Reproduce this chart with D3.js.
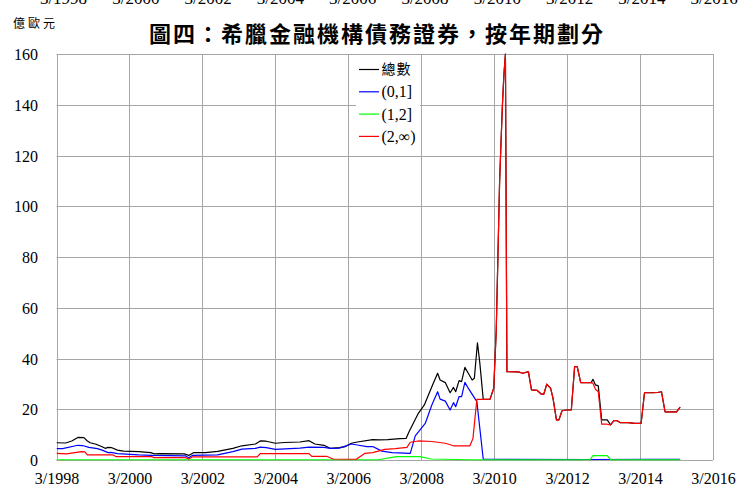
<!DOCTYPE html>
<html><head><meta charset="utf-8">
<script src="https://cdn.jsdelivr.net/npm/d3@7/dist/d3.min.js"></script>
<style>
html,body{margin:0;padding:0;background:#fff;}
svg{display:block;}
</style></head>
<body>
<svg id="chart" width="739" height="487"></svg>
<script>
const titleText = "圖四：希臘金融機構債務證券，按年期劃分";
const unitText = "億歐元";
const seriesNames = ["總數", "(0,1]", "(1,2]", "(2,∞)"];
const seriesColors = ["#000000", "#0000ff", "#00ff00", "#ff0000"];
const xTickLabels = ["3/1998","3/2000","3/2002","3/2004","3/2006","3/2008","3/2010","3/2012","3/2014","3/2016"];
const xTickDates = ["1998-03-01","2000-03-01","2002-03-01","2004-03-01","2006-03-01","2008-03-01","2010-03-01","2012-03-01","2014-03-01","2016-03-01"];
const yTicks = [0,20,40,60,80,100,120,140,160];

const totalDates = ["1998-03-01","1998-06-01","1998-08-01","1998-10-01","1998-12-01","1999-01-01","1999-02-01","1999-04-01","1999-06-01","1999-07-01","1999-08-01","1999-09-01","1999-11-01","2000-01-01","2000-06-01","2000-10-01","2000-11-01","2001-01-01","2001-09-01","2001-10-15","2001-12-01","2002-04-01","2002-08-01","2003-01-01","2003-04-01","2003-08-15","2003-10-01","2003-12-01","2004-03-01","2004-06-01","2004-11-01","2005-02-01","2005-04-01","2005-07-01","2005-09-01","2005-12-01","2006-02-01","2006-04-01","2006-06-01","2006-11-01","2007-01-01","2007-04-01","2007-08-01","2007-10-01","2007-11-01","2008-02-01","2008-04-01","2008-06-15","2008-08-12","2008-09-06","2008-10-28","2008-12-15","2009-01-18","2009-02-09","2009-03-15","2009-04-09","2009-05-12","2009-06-15","2009-07-24","2009-08-15","2009-09-15","2009-10-09","2009-11-12","2010-01-18","2010-02-25","2010-03-22","2010-04-25","2010-05-22","2010-06-07","2010-06-22","2010-07-07","2010-10-28","2010-12-15","2011-02-07","2011-03-10","2011-05-07","2011-06-15","2011-07-12","2011-08-10","2011-09-18","2011-10-12","2011-11-15","2011-12-10","2012-01-10","2012-02-22","2012-04-12","2012-05-15","2012-06-10","2012-07-15","2012-10-28","2012-11-15","2012-12-10","2013-01-07","2013-02-10","2013-04-07","2013-05-10","2013-06-12","2013-07-15","2013-08-18","2013-11-01","2014-01-07","2014-03-12","2014-04-15","2014-07-07","2014-08-25","2014-10-02","2014-11-07","2015-03-02","2015-04-07"];
const totalValues = [6.8,6.7,7.5,8.9,8.8,7.6,6.8,6.2,5.2,4.6,5.0,4.9,3.9,3.5,3.3,2.9,2.4,2.5,2.4,1.8,2.9,2.9,3.4,4.6,5.6,6.3,7.5,7.4,6.6,6.9,7.1,7.6,6.3,5.8,4.6,4.9,5.3,6.6,7.1,8.0,7.9,8.0,8.4,8.5,11.2,18.4,21.7,28.9,34.2,31.5,30.5,26.5,28.6,26.9,31.3,30.9,36.5,34.2,31.5,32.2,46.2,38.1,23.9,23.9,28.3,51,110,139,152,160,34.8,34.7,34.2,34.8,27.6,27.4,26.0,26.0,29.9,28.2,24.3,15.8,15.8,19.4,19.7,19.7,36.8,36.8,30.5,30.5,31.8,29.6,29.2,15.8,15.8,13.8,15.5,15.5,14.7,14.7,14.4,14.4,26.5,26.5,26.6,26.9,19.0,19.0,20.8];

const shortDates = ["1998-03-01","1998-05-01","1998-10-01","1998-11-15","1999-01-20","1999-04-15","1999-06-01","1999-08-01","1999-09-01","1999-11-01","2000-06-01","2000-10-15","2001-09-15","2001-10-15","2001-11-20","2002-08-01","2003-01-01","2003-04-01","2003-08-15","2003-10-01","2003-12-01","2004-03-01","2004-11-01","2005-02-01","2005-07-01","2005-09-01","2005-12-01","2006-04-01","2006-06-01","2006-09-01","2006-11-01","2007-02-01","2007-05-15","2007-11-12","2008-01-01","2008-04-10","2008-06-15","2008-08-12","2008-09-06","2008-10-28","2008-12-15","2009-01-18","2009-02-09","2009-03-15","2009-04-09","2009-05-12","2009-06-15","2009-09-09","2009-11-12","2012-10-15","2014-06-01","2015-04-07"];
const shortValues = [4.5,4.5,5.8,5.7,5.0,4.5,3.9,2.9,3.0,2.5,2.0,1.8,1.6,0.9,1.8,2.0,3.3,4.3,4.6,5.1,4.9,4.2,4.7,5.1,5.0,4.6,4.7,6.3,5.9,5.3,5.3,3.5,2.9,2.6,9.5,14.4,21.7,26.9,24.0,23.2,19.7,22.6,21.0,25.0,25.0,30.6,28.3,23.0,0.3,0.2,0.3,0.3];

const midDates = ["1998-03-01","2006-12-25","2007-06-25","2008-02-15","2008-06-10","2009-07-01","2012-10-15","2012-11-15","2013-04-07","2013-05-10","2015-04-07"];
const midValues = [0.1,0.1,1.3,1.3,0.4,0.1,0.1,1.7,1.7,0.1,0.1];

const longDates = ["1998-03-01","1998-06-10","1998-11-05","1998-12-10","1999-01-05","1999-09-20","1999-10-20","2000-10-15","2000-11-01","2001-09-15","2001-10-15","2001-11-20","2003-09-01","2003-10-01","2005-02-01","2005-03-01","2005-08-01","2005-10-01","2006-05-20","2006-08-12","2006-11-01","2007-03-01","2007-06-15","2007-10-10","2007-11-12","2008-02-01","2008-06-15","2008-10-28","2009-01-18","2009-07-01","2009-08-01","2009-09-09","2010-01-18","2010-02-25","2010-03-22","2010-04-25","2010-05-22","2010-06-07","2010-06-22","2010-07-07","2010-10-28","2010-12-15","2011-02-07","2011-03-10","2011-05-07","2011-06-15","2011-07-12","2011-08-10","2011-09-18","2011-10-12","2011-11-15","2011-12-10","2012-01-10","2012-02-22","2012-04-12","2012-05-15","2012-06-10","2012-07-15","2012-10-28","2012-11-15","2012-12-10","2013-01-07","2013-02-10","2013-04-07","2013-05-10","2013-06-12","2013-07-15","2013-08-18","2013-11-01","2014-01-07","2014-03-12","2014-04-15","2014-07-07","2014-08-25","2014-10-02","2014-11-07","2015-03-02","2015-04-07"];
const longValues = [2.6,2.4,3.3,3.2,2.0,2.0,1.3,1.3,0.9,0.9,0.4,1.2,1.2,2.5,2.5,1.4,1.4,0.4,0.3,2.6,2.9,4.2,4.5,5.0,7.0,7.5,7.3,6.6,5.6,5.6,8.5,23.9,23.9,28.3,51,110,139,152,160,34.8,34.7,34.2,34.8,27.6,27.4,26.0,26.0,29.9,28.2,24.3,15.8,15.8,19.4,19.7,19.7,36.8,36.8,30.5,30.5,30.2,27.9,26.9,14.1,14.1,13.8,15.5,15.5,14.7,14.7,14.4,14.4,26.5,26.5,26.6,26.9,19.0,19.0,20.8];

const parse = d3.timeParse("%Y-%m-%d");
const svg = d3.select("#chart");
const M = {left: 56.5, right: 713, top: 54, bottom: 460};

const x = d3.scaleTime().domain([parse("1998-03-01"), parse("2016-03-01")]).range([M.left, M.right]);
const y = d3.scaleLinear().domain([0, 160]).range([M.bottom, M.top]);

const serif = "'Liberation Serif','Times New Roman',serif";
const cjk = "'Noto Sans CJK TC','Noto Sans CJK SC',sans-serif";

// top clipped axis labels
svg.append("g").selectAll("text").data(xTickLabels).join("text")
  .attr("x", (d,i) => 63.5 + i*72.3).attr("y", 3.5)
  .attr("text-anchor","middle").attr("font-family", serif).attr("font-size", 17)
  .attr("fill","#000").text(d => d);

// unit
svg.append("text").attr("x", 13).attr("y", 28).attr("font-family", cjk)
  .attr("font-size", 12).attr("letter-spacing", 3).attr("fill","#000").text(unitText);

// title
svg.append("text").attr("x", 377).attr("y", 42).attr("text-anchor","middle")
  .attr("font-family", cjk).attr("font-weight","bold").attr("font-size", 22)
  .attr("letter-spacing", 2).attr("fill","#000").text(titleText);

const gridColor = "#a6a6a6";
// horizontal grid
svg.append("g").selectAll("line").data(yTicks).join("line")
  .attr("x1", M.left).attr("x2", M.right)
  .attr("y1", d => Math.round(y(d))+0.5).attr("y2", d => Math.round(y(d))+0.5)
  .attr("stroke", gridColor).attr("stroke-width", 1);
// vertical grid
svg.append("g").selectAll("line").data(xTickDates).join("line")
  .attr("x1", d => Math.round(x(parse(d)))+0.5).attr("x2", d => Math.round(x(parse(d)))+0.5)
  .attr("y1", M.top).attr("y2", M.bottom)
  .attr("stroke", gridColor).attr("stroke-width", 1);

// axes (labels only)
const yAxis = d3.axisLeft(y).tickValues(yTicks).tickSize(0).tickPadding(0).tickFormat(d3.format("d"));
const gy = svg.append("g").attr("transform", `translate(38,0)`).call(yAxis);
gy.select(".domain").remove();
gy.selectAll("text").attr("font-family", serif).attr("font-size", 16).attr("fill","#000").attr("dy","0.35em");

const xAxis = d3.axisBottom(x).tickValues(xTickDates.map(parse)).tickSize(0).tickPadding(0)
  .tickFormat((d,i) => xTickLabels[i]);
const gx = svg.append("g").attr("transform", `translate(0,${M.bottom})`).call(xAxis);
gx.select(".domain").remove();
gx.selectAll("text").attr("font-family", serif).attr("font-size", 16).attr("fill","#000")
  .attr("dy", null).attr("y", 24);

// clip
svg.append("clipPath").attr("id","clip").append("rect")
  .attr("x", M.left).attr("y", M.top - 1).attr("width", M.right - M.left).attr("height", M.bottom - M.top + 2);

const line = d3.line().x(d => x(d[0])).y(d => y(d[1]));
const seriesData = [
  totalDates.map((d,i) => [parse(d), totalValues[i]]),
  shortDates.map((d,i) => [parse(d), shortValues[i]]),
  midDates.map((d,i) => [parse(d), midValues[i]]),
  longDates.map((d,i) => [parse(d), longValues[i]])
];
const lines = svg.append("g").attr("clip-path","url(#clip)");
seriesData.forEach((s, i) => {
  lines.append("path").datum(s).attr("d", line).attr("fill","none")
    .attr("stroke", seriesColors[i]).attr("stroke-width", 1.2).attr("stroke-linejoin","round");
});

// legend
const lg = svg.append("g");
lg.append("rect").attr("x", 356).attr("y", 57).attr("width", 64).attr("height", 90).attr("fill","#fff");
seriesNames.forEach((n, i) => {
  const ly = 69.5 + i*22.3;
  lg.append("line").attr("x1", 359).attr("x2", 379).attr("y1", ly).attr("y2", ly)
    .attr("stroke", seriesColors[i]).attr("stroke-width", 1.2);
  lg.append("text").attr("x", 381.5).attr("y", ly).attr("dy","0.35em")
    .attr("font-family", i === 0 ? cjk : serif).attr("font-size", i === 0 ? 14 : 16)
    .attr("letter-spacing", i === 0 ? 1 : 0).attr("fill","#000").text(n);
});
</script>
</body></html>
